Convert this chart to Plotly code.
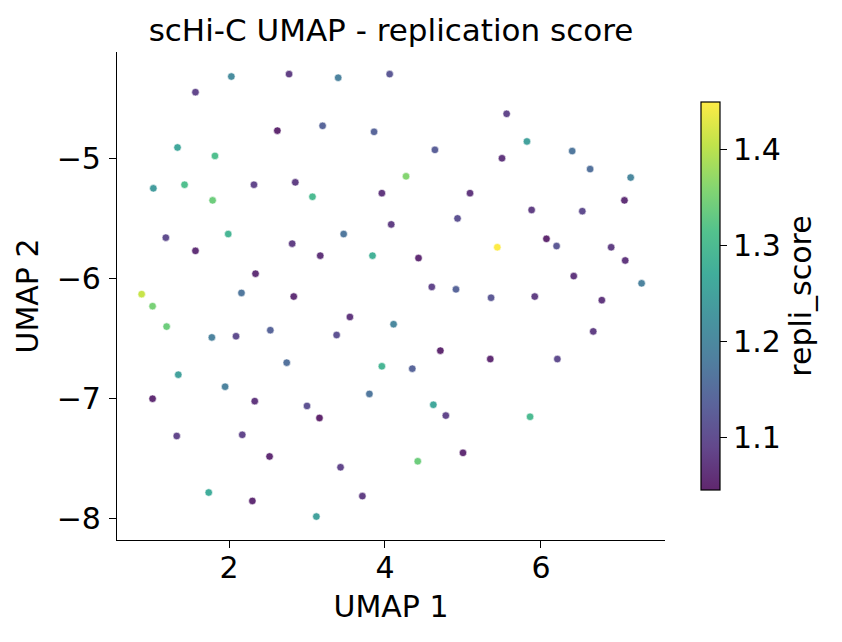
import plotly.graph_objects as go
import plotly.express as px

umap1 = [2.03, 2.77, 3.40, 4.06, 1.57, 2.62, 3.20, 3.86, 1.34, 1.82,
         1.03, 1.43, 2.32, 2.85, 3.07, 1.79, 3.96, 4.08, 1.19, 1.99,
         1.57, 2.81, 3.17, 3.47, 3.84, 2.34, 0.88, 2.16, 2.83, 5.56,
         5.82, 4.64, 6.40, 5.50, 6.63, 7.15, 4.27, 5.09, 7.07, 5.88,
         6.53, 4.93, 6.07, 6.20, 6.90, 5.44, 7.08, 4.43, 6.42, 7.29,
         4.60, 4.91, 5.36, 5.92, 6.78, 1.02, 1.20, 1.78, 2.09, 2.53,
         3.55, 3.38, 4.11, 1.35, 2.74, 3.96, 1.02, 1.95, 2.33, 3.00,
         3.16, 3.80, 1.33, 2.17, 2.52, 3.43, 1.74, 2.30, 3.71, 3.12,
         6.67, 4.71, 5.35, 6.21, 4.35, 4.62, 4.78, 5.86, 5.00, 4.42]

umap2 = [-4.32, -4.30, -4.33, -4.30, -4.45, -4.77, -4.73, -4.78, -4.91, -4.98,
         -5.25, -5.22, -5.22, -5.20, -5.32, -5.35, -5.29, -5.55, -5.66, -5.63,
         -5.77, -5.71, -5.81, -5.63, -5.81, -5.96, -6.13, -6.12, -6.15, -4.63,
         -4.86, -4.93, -4.94, -5.00, -5.09, -5.16, -5.15, -5.29, -5.35, -5.43,
         -5.44, -5.50, -5.67, -5.73, -5.74, -5.74, -5.85, -5.83, -5.98, -6.04,
         -6.07, -6.09, -6.16, -6.15, -6.18, -6.23, -6.40, -6.49, -6.48, -6.43,
         -6.32, -6.47, -6.38, -6.80, -6.70, -6.73, -7.00, -6.90, -7.02, -7.06,
         -7.16, -6.96, -7.31, -7.30, -7.48, -7.57, -7.78, -7.85, -7.81, -7.98,
         -6.44, -6.60, -6.67, -6.67, -6.75, -7.05, -7.14, -7.15, -7.45, -7.52]

repli_score = [1.21, 1.08, 1.19, 1.12, 1.09, 1.05, 1.14, 1.14, 1.26, 1.31,
               1.24, 1.31, 1.09, 1.08, 1.30, 1.34, 1.07, 1.08, 1.10, 1.29,
               1.06, 1.08, 1.065, 1.17, 1.28, 1.06, 1.41, 1.17, 1.06, 1.09,
               1.25, 1.13, 1.17, 1.07, 1.16, 1.20, 1.36, 1.07, 1.06, 1.08,
               1.10, 1.11, 1.05, 1.12, 1.08, 1.45, 1.07, 1.055, 1.07, 1.19,
               1.09, 1.14, 1.12, 1.08, 1.07, 1.35, 1.34, 1.19, 1.10, 1.14,
               1.07, 1.11, 1.20, 1.25, 1.16, 1.29, 1.055, 1.19, 1.07, 1.11,
               1.045, 1.17, 1.09, 1.09, 1.055, 1.09, 1.27, 1.055, 1.08, 1.25,
               1.08, 1.05, 1.055, 1.10, 1.14, 1.26, 1.09, 1.30, 1.055, 1.34]

cbar_ticks = [1.1, 1.2, 1.3, 1.4]

FONT = "DejaVu Sans"
FS = 30
ALPHA = 0.85


def blend(hexc):
    h = hexc.lstrip("#")
    r, g, b = (int(h[i:i + 2], 16) for i in (0, 2, 4))
    f = lambda c: round(ALPHA * c + (1 - ALPHA) * 255)
    return f"rgb({f(r)},{f(g)},{f(b)})"


vir = px.colors.sequential.Viridis
scale = [[i / (len(vir) - 1), blend(c)] for i, c in enumerate(vir)]

fig = go.Figure(go.Scatter(
    x=umap1, y=umap2, mode="markers",
    marker=dict(
        size=7.5, color=repli_score, colorscale=scale,
        cmin=1.045, cmax=1.45, opacity=1,
        line=dict(color="white", width=0.6),
        colorbar=dict(
            title=dict(text="repli_score", side="right", font=dict(size=FS, color="black", family=FONT)),
            x=1.0657, xanchor="left", xpad=0, ypad=0,
            y=0.5, yanchor="middle",
            thickness=19, thicknessmode="pixels",
            len=388, lenmode="pixels",
            outlinewidth=1.2, outlinecolor="black",
            tickvals=cbar_ticks, ticktext=[str(v) for v in cbar_ticks],
            ticks="outside", ticklen=7, tickwidth=1.2, tickcolor="black",
            tickfont=dict(size=FS, color="black", family=FONT),
        ),
    ),
    showlegend=False,
))

fig.update_layout(
    width=834, height=634,
    margin=dict(l=109, r=177, t=44, b=102),
    paper_bgcolor="white", plot_bgcolor="white",
    font=dict(family=FONT, color="black"),
    title=dict(text="scHi-C UMAP - replication score", x=0.5, xref="paper",
               y=1 - 22 / 634, yref="container", yanchor="middle", xanchor="center",
               font=dict(size=31, color="black", family=FONT)),
)

fig.update_xaxes(
    range=[0.564, 7.59], showgrid=False, zeroline=False,
    showline=True, linecolor="black", linewidth=1.2, mirror=False,
    ticks="outside", ticklen=7, tickwidth=1.2, tickcolor="black",
    ticklabelstandoff=-6,
    tickvals=[2, 4, 6], tickfont=dict(size=FS, color="black", family=FONT),
    title=dict(text="UMAP 1", font=dict(size=FS, color="black", family=FONT), standoff=11),
)
fig.update_yaxes(
    range=[-8.175, -4.116], showgrid=False, zeroline=False,
    showline=True, linecolor="black", linewidth=1.2, mirror=False,
    ticks="outside", ticklen=7, tickwidth=1.2, tickcolor="black",
    ticklabelstandoff=2,
    tickvals=[-8, -7, -6, -5], ticktext=["\u22128", "\u22127", "\u22126", "\u22125"],
    tickfont=dict(size=FS, color="black", family=FONT),
    title=dict(text="UMAP 2", font=dict(size=FS, color="black", family=FONT), standoff=9),
)

fig.write_html("out.html")
